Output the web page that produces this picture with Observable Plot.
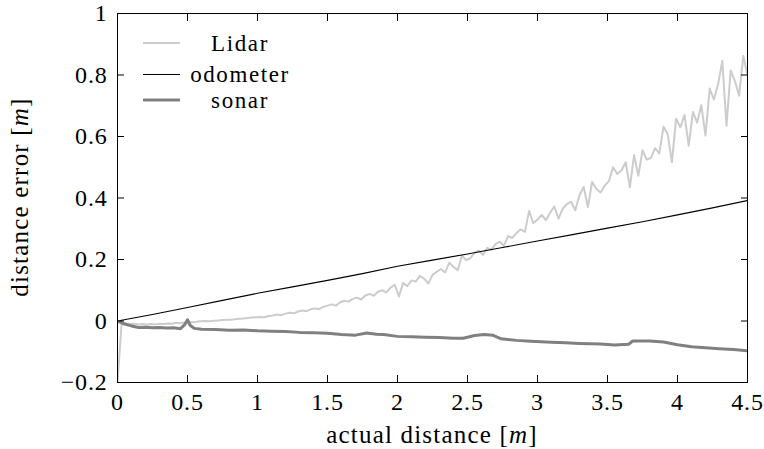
<!DOCTYPE html>
<html><head><meta charset="utf-8">
<script src="https://cdn.jsdelivr.net/npm/d3@7"></script>
<script src="https://cdn.jsdelivr.net/npm/@observablehq/plot@0.6"></script>
<style>
body{margin:0;background:#fff;}
#chart{position:absolute;left:0;top:0;}
</style></head><body><div id="chart"></div>
<script>
const seriesNames = ["Lidar", "odometer", "sonar"];
const lidarX = [0,0.03,0.06,0.09,0.12,0.15,0.18,0.21,0.24,0.27,0.30,0.33,0.36,0.39,0.42,0.45,0.48,0.51,0.54,0.57,
0.60,0.63,0.66,0.69,0.72,0.75,0.78,0.81,0.84,0.87,0.90,0.93,0.96,0.99,1.02,1.05,1.08,1.11,1.14,1.17,
1.20,1.23,1.26,1.29,1.32,1.35,1.38,1.41,1.44,1.47,1.50,1.53,1.56,1.59,1.62,1.65,1.68,1.71,1.74,1.77,
1.80,1.83,1.86,1.89,1.92,1.95,1.98,2.01,2.04,2.07,2.10,2.13,2.16,2.19,2.22,2.25,2.28,2.31,2.34,2.37,
2.40,2.43,2.46,2.49,2.52,2.55,2.58,2.61,2.64,2.67,2.70,2.73,2.76,2.79,2.82,2.85,2.88,2.91,2.94,2.97,
3.00,3.03,3.06,3.09,3.12,3.15,3.18,3.21,3.24,3.27,3.30,3.33,3.36,3.39,3.42,3.45,3.48,3.51,3.54,3.57,
3.60,3.63,3.66,3.69,3.72,3.75,3.78,3.81,3.84,3.87,3.90,3.93,3.96,3.99,4.02,4.05,4.08,4.11,4.14,4.17,
4.20,4.23,4.26,4.29,4.32,4.35,4.38,4.41,4.44,4.47,4.50];
const lidarY = [-0.2,-0.004,-0.008,-0.01,-0.009,-0.011,-0.01,-0.012,-0.01,-0.011,-0.009,-0.01,-0.008,-0.009,-0.006,-0.007,-0.004,-0.003,-0.004,-0.002,
-0.001,0.0,-0.001,0.001,0.002,0.003,0.004,0.004,0.006,0.007,0.008,0.01,0.011,0.012,0.013,0.012,0.016,0.018,0.021,0.019,
0.024,0.027,0.025,0.031,0.034,0.032,0.038,0.041,0.039,0.046,0.05,0.054,0.05,0.061,0.066,0.063,0.072,0.076,0.07,0.083,
0.088,0.082,0.095,0.1,0.093,0.108,0.118,0.08,0.124,0.113,0.132,0.128,0.147,0.138,0.122,0.15,0.16,0.169,0.158,0.19,
0.176,0.165,0.212,0.198,0.204,0.222,0.229,0.215,0.238,0.232,0.25,0.258,0.245,0.276,0.27,0.286,0.298,0.29,0.358,0.318,
0.33,0.345,0.328,0.352,0.372,0.333,0.365,0.38,0.388,0.36,0.41,0.436,0.37,0.452,0.43,0.418,0.44,0.455,0.5,0.478,
0.49,0.516,0.435,0.54,0.472,0.555,0.525,0.53,0.562,0.545,0.632,0.608,0.516,0.658,0.63,0.67,0.57,0.68,0.645,0.702,
0.603,0.756,0.72,0.77,0.846,0.635,0.815,0.78,0.733,0.862,0.8];
const odoX = [0,0.25,0.5,0.75,1,1.25,1.5,1.75,2,2.25,2.5,2.75,3,3.25,3.5,3.75,4,4.25,4.5];
const odoY = [0,0.021,0.044,0.067,0.09,0.111,0.132,0.154,0.178,0.198,0.218,0.239,0.26,0.281,0.302,0.323,0.345,0.368,0.392];
const sonarX = [0,0.05,0.1,0.15,0.2,0.25,0.3,0.35,0.4,0.45,0.48,0.5,0.52,0.55,0.6,0.7,0.8,0.9,1.0,1.1,1.2,1.3,1.4,1.5,1.6,1.7,1.78,1.85,1.9,
2.0,2.1,2.2,2.3,2.4,2.47,2.55,2.62,2.68,2.74,2.85,2.95,3.1,3.2,3.3,3.45,3.55,3.65,3.68,3.8,3.9,4.0,4.1,4.2,4.3,4.4,4.5];
const sonarY = [0,-0.01,-0.016,-0.021,-0.02,-0.022,-0.021,-0.023,-0.022,-0.025,-0.012,0.004,-0.015,-0.024,-0.027,-0.028,-0.03,-0.029,-0.032,-0.033,-0.034,-0.037,-0.038,-0.04,-0.044,-0.046,-0.039,-0.043,-0.044,
-0.05,-0.051,-0.053,-0.054,-0.056,-0.056,-0.047,-0.044,-0.046,-0.058,-0.063,-0.066,-0.069,-0.071,-0.073,-0.075,-0.078,-0.076,-0.065,-0.065,-0.068,-0.077,-0.084,-0.087,-0.09,-0.093,-0.097];
const xTicks = [0,0.5,1,1.5,2,2.5,3,3.5,4,4.5];
const xTickLabels = ["0","0.5","1","1.5","2","2.5","3","3.5","4","4.5"];
const yTicks = [-0.2,0,0.2,0.4,0.6,0.8,1];
const yTickLabels = ["\u22120.2","0","0.2","0.4","0.6","0.8","1"];
const xTitle = ["actual distance [", "m", "]"];
const yTitle = ["distance error [", "m", "]"];
const seriesColors = ["#cccccc", "#000000", "#808080"];
const seriesWidths = [2, 1.1, 3];

const rows = (xs, ys) => xs.map((x, i) => ({x, y: ys[i]}));
const FONT = "'Liberation Serif', 'Times New Roman', serif";

const plot = Plot.plot({
  width: 764, height: 449,
  marginLeft: 117, marginRight: 17, marginTop: 13, marginBottom: 67,
  x: {domain: [0, 4.5]},
  y: {domain: [-0.2, 1]},
  style: {fontFamily: FONT, fontSize: "24px", color: "#000", background: "#fff", overflow: "visible"},
  marks: [
    Plot.line(rows(lidarX, lidarY), {x: "x", y: "y", stroke: seriesColors[0], strokeWidth: seriesWidths[0], clip: true}),
    Plot.line(rows(odoX, odoY), {x: "x", y: "y", stroke: seriesColors[1], strokeWidth: seriesWidths[1], clip: true}),
    Plot.line(rows(sonarX, sonarY), {x: "x", y: "y", stroke: seriesColors[2], strokeWidth: seriesWidths[2], clip: true}),
    Plot.frame({stroke: "#000", strokeWidth: 1}),
    Plot.axisX(xTicks, {anchor: "bottom", tickSize: -7, tickFormat: () => "", label: null}),
    Plot.axisX(xTicks, {anchor: "top", tickSize: -7, tickFormat: () => "", label: null}),
    Plot.axisY(yTicks, {anchor: "left", tickSize: -7, tickFormat: () => "", label: null}),
    Plot.axisY(yTicks, {anchor: "right", tickSize: -7, tickFormat: () => "", label: null}),
    Plot.axisX(xTicks, {anchor: "bottom", tickSize: 0, tickPadding: 10, label: null,
      tickFormat: d => xTickLabels[xTicks.indexOf(d)], fontSize: 24}),
    Plot.axisY(yTicks, {anchor: "left", tickSize: 0, tickPadding: 10, label: null,
      tickFormat: d => yTickLabels[yTicks.indexOf(d)], fontSize: 24})
  ]
});
document.getElementById("chart").appendChild(plot);

const svg = d3.select(plot);
svg.selectAll("text").style("letter-spacing", "0.8px");

function title(parts, attrs) {
  const t = svg.append("text").attr("font-family", FONT).attr("font-size", 25)
    .attr("fill", "#000").attr("text-anchor", "middle").style("letter-spacing", "1.2px");
  for (const [k, v] of Object.entries(attrs)) t.attr(k, v);
  t.append("tspan").text(parts[0]);
  t.append("tspan").attr("font-style", "italic").text(parts[1]);
  t.append("tspan").text(parts[2]);
}
title(xTitle, {x: 432, y: 443});
title(yTitle, {transform: "translate(28,197) rotate(-90)"});

// legend
const legY = [43, 74.5, 100];
const legTextY = [51, 82, 108];
seriesNames.forEach((name, i) => {
  svg.append("line").attr("x1", 143).attr("x2", 180).attr("y1", legY[i]).attr("y2", legY[i])
    .attr("stroke", seriesColors[i]).attr("stroke-width", i === 1 ? 1 : seriesWidths[i]);
  svg.append("text").attr("x", 240).attr("y", legTextY[i]).attr("text-anchor", "middle")
    .attr("font-family", FONT).attr("font-size", 23).attr("fill", "#000")
    .style("letter-spacing", "1.6px").text(name);
});
</script></body></html>
